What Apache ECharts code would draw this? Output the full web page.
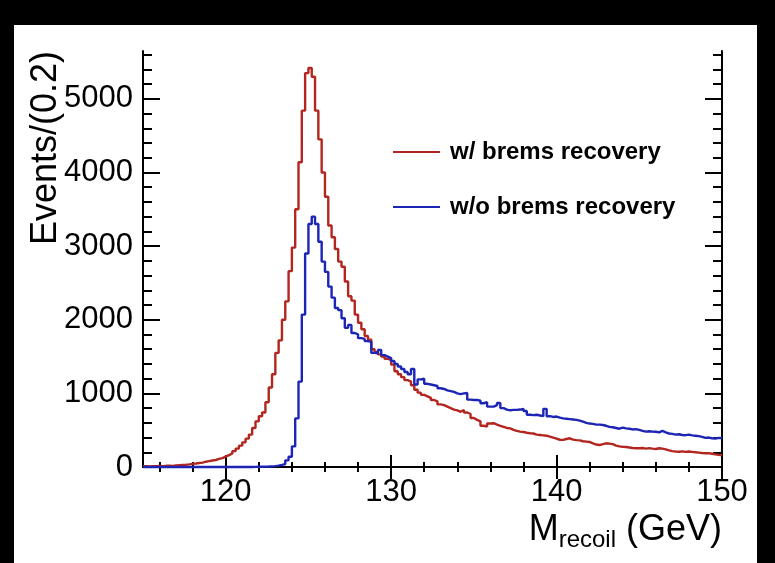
<!DOCTYPE html>
<html>
<head>
<meta charset="utf-8">
<script src="https://cdn.jsdelivr.net/npm/echarts@6/dist/echarts.min.js"></script>
<style>
  html, body { margin: 0; padding: 0; background: #fff; }
  #chart { width: 775px; height: 563px; }
</style>
</head>
<body>
<div id="chart"></div>
<script>
// Recoil-mass histograms, 0.2 GeV bins from 115 to 150 GeV
const X_MIN = 115;
const X_MAX = 150;
const BIN = 0.2;
const Y_MAX = 5650;

const X_TICKS = [120, 130, 140, 150];
const Y_TICKS = [0, 1000, 2000, 3000, 4000, 5000];

const SERIES_NAMES = ['w/ brems recovery', 'w/o brems recovery'];

// events per bin, with bremsstrahlung recovery
const withBrems = [
  10, 8, 12, 10, 14, 12, 16, 18, 15, 22,
  25, 28, 30, 35, 42, 48, 55, 60, 72, 80,
  88, 95, 110, 120, 140, 160, 185, 215, 250, 290,
  335, 385, 440, 530, 620, 690, 740, 880, 1080, 1260,
  1550, 1720, 2000, 2250, 2660, 2980, 3500, 4140, 4840, 5350,
  5420, 5300, 4840, 4450, 4000, 3670, 3280, 3120, 2960, 2790,
  2720, 2520, 2320, 2260, 2070, 1960, 1870, 1780, 1730, 1600,
  1560, 1530, 1500, 1470, 1450, 1390, 1300, 1260, 1220, 1180,
  1160, 1110, 1050, 1010, 980, 960, 940, 910, 890, 850,
  840, 820, 800, 780, 770, 750, 775, 740, 720, 665,
  640, 620, 560, 550, 590, 595, 575, 560, 545, 530,
  525, 505, 490, 480, 475, 465, 458, 455, 440, 435,
  430, 425, 412, 400, 385, 370, 368, 380, 390, 372,
  365, 362, 350, 345, 340, 320, 305, 298, 310, 322,
  318, 310, 290, 280, 275, 272, 265, 258, 255, 254,
  258, 250, 256, 250, 245, 255, 250, 240, 225, 215,
  210, 208, 212, 205, 210, 205, 200, 195, 190, 186,
  188, 180, 172, 165, 160
];

// events per bin, without bremsstrahlung recovery
const withoutBrems = [
  0, 0, 0, 0, 0, 0, 0, 0, 0, 0,
  0, 0, 0, 0, 0, 0, 0, 0, 0, 0,
  0, 0, 0, 0, 0, 0, 0, 0, 0, 0,
  0, 0, 0, 2, 3, 4, 5, 6, 8, 12,
  18, 28, 40, 90, 140, 280, 660, 1160, 2070, 2900,
  3300, 3400, 3300, 3060, 2790, 2650, 2450, 2300, 2160, 2130,
  2020, 1890, 1930, 1820, 1800, 1750, 1740, 1710, 1700, 1550,
  1545, 1590, 1520, 1500, 1480, 1440, 1400, 1365, 1330, 1290,
  1260, 1330, 1120, 1190, 1200, 1130, 1120, 1110, 1100, 1070,
  1060, 1040, 1030, 1020, 1000, 990, 1000, 1005, 915, 910,
  912, 900, 866, 880, 820, 820, 840, 870, 800, 780,
  770, 776, 776, 780, 790, 760, 710, 705, 710, 700,
  690, 790, 690, 680, 685, 670, 660, 655, 650, 645,
  640, 630, 615, 600, 590, 585, 575, 575, 570, 560,
  545, 540, 530, 520, 535, 525, 520, 510, 515, 505,
  490, 480, 485, 480, 478, 470, 490, 470, 455, 450,
  440, 445, 435, 432, 440, 430, 425, 420, 410, 395,
  400, 390, 385, 395, 390
];

const COLORS = ['#b3261f', '#1c25b5'];
const FONT = 'Liberation Sans, Arial, Helvetica, sans-serif';

// step outline: each bin's low edge carries its content, final point closes the last bin
function histogram(values) {
  const pts = values.map((v, i) => [X_MIN + i * BIN, v]);
  pts.push([X_MAX, values[values.length - 1]]);
  return pts;
}

// minor tick positions between the labelled ones
function minorTicks(from, to, step, majorStep) {
  const out = [];
  for (let v = from; v <= to + 1e-9; v += step) {
    const r = Math.round(v * 1000) / 1000;
    if (Math.abs(r / majorStep - Math.round(r / majorStep)) > 1e-6) out.push(r);
  }
  return out;
}
const X_MINOR = minorTicks(116, 148, 2, 10);
const Y_MINOR = minorTicks(200, 5600, 200, 1000);

const frameLine = { show: true, lineStyle: { color: '#000', width: 2 } };
const plain = v => String(v);

function axisDef(kind, position, ticks, len, labels) {
  const isX = kind === 'x';
  return {
    type: 'value', position,
    min: isX ? X_MIN : 0, max: isX ? X_MAX : Y_MAX,
    axisLine: labels !== null ? frameLine : { show: false },
    axisTick: { show: true, inside: true, length: len, customValues: ticks,
                lineStyle: { color: '#000', width: 2 } },
    axisLabel: labels ? { show: true, customValues: labels, formatter: plain, color: '#000',
                          fontSize: 31, fontFamily: FONT, margin: 10 }
                      : { show: false },
    splitLine: { show: false }
  };
}

const chart = echarts.init(document.getElementById('chart'), null, { renderer: 'canvas' });

chart.setOption({
  backgroundColor: '#fff',
  animation: false,
  grid: { left: 143, top: 51, width: 579, height: 416, containLabel: false },
  xAxis: [
    axisDef('x', 'bottom', X_TICKS, 12, X_TICKS),
    axisDef('x', 'bottom', X_MINOR, 5, null),
    axisDef('x', 'top', X_TICKS, 12, false),
    axisDef('x', 'top', X_MINOR, 5, null)
  ],
  yAxis: [
    axisDef('y', 'left', Y_TICKS, 17, Y_TICKS),
    axisDef('y', 'left', Y_MINOR, 9, null),
    axisDef('y', 'right', Y_TICKS, 17, false),
    axisDef('y', 'right', Y_MINOR, 9, null)
  ],
  legend: {
    orient: 'vertical',
    left: 393, top: 140, padding: 0,
    itemWidth: 47, itemHeight: 2, itemGap: 31,
    icon: 'rect',
    data: SERIES_NAMES,
    textStyle: { color: '#000', fontSize: 24, fontWeight: 'bold', fontFamily: FONT,
                 lineHeight: 24, padding: [0, 0, 0, 5] }
  },
  series: [
    {
      name: SERIES_NAMES[0], type: 'line', step: 'end', showSymbol: false, clip: false,
      xAxisIndex: 0, yAxisIndex: 0,
      lineStyle: { color: COLORS[0], width: 2.4 }, itemStyle: { color: COLORS[0] },
      data: histogram(withBrems)
    },
    {
      name: SERIES_NAMES[1], type: 'line', step: 'end', showSymbol: false, clip: false,
      xAxisIndex: 0, yAxisIndex: 0,
      lineStyle: { color: COLORS[1], width: 2.4 }, itemStyle: { color: COLORS[1] },
      data: histogram(withoutBrems)
    }
  ],
  graphic: [
    // dark surround of the canvas
    { type: 'rect', shape: { x: 0, y: 0, width: 775, height: 25 }, style: { fill: '#000' }, silent: true },
    { type: 'rect', shape: { x: 0, y: 0, width: 14, height: 563 }, style: { fill: '#000' }, silent: true },
    { type: 'rect', shape: { x: 757, y: 0, width: 18, height: 563 }, style: { fill: '#000' }, silent: true },
    // axis titles
    {
      type: 'text', x: 46, y: 51, rotation: Math.PI / 2, silent: true,
      style: { text: 'Events/(0.2)', fill: '#000', font: '36px ' + FONT,
               align: 'right', verticalAlign: 'middle' }
    },
    {
      type: 'text', x: 722, y: 512, silent: true,
      style: {
        text: '{m|M}{s|recoil}{m| (GeV)}', fill: '#000',
        align: 'right', verticalAlign: 'top',
        rich: {
          m: { fontSize: 36, fontFamily: FONT, lineHeight: 40, verticalAlign: 'top', fill: '#000' },
          s: { fontSize: 24, fontFamily: FONT, lineHeight: 20, verticalAlign: 'bottom', fill: '#000' }
        }
      }
    }
  ]
});
</script>
</body>
</html>
